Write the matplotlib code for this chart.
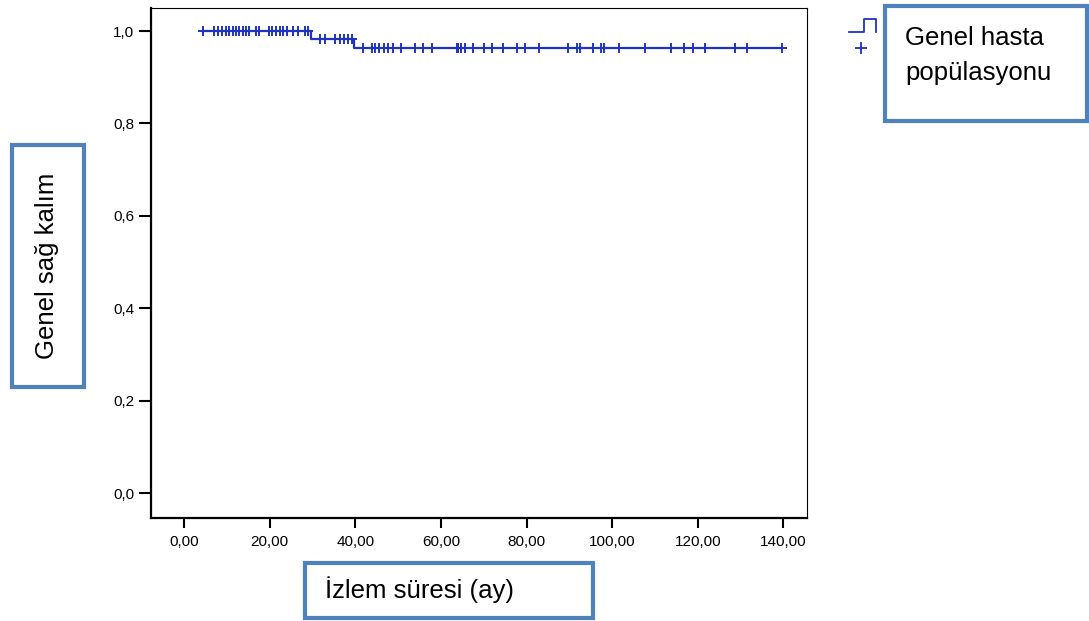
import matplotlib
matplotlib.use("Agg")
import matplotlib.pyplot as plt
from matplotlib.lines import Line2D
from matplotlib.patches import Rectangle

plt.rcParams['font.family'] = ['Liberation Sans', 'DejaVu Sans']

# Kaplan-Meier data
event_times = [29.7, 39.6]
surv_levels = [1.0, 0.982, 0.963]
start_time = 4.5
end_time = 139.6
censor_times = [4.5, 6.9, 8.0, 8.8, 9.8, 10.6, 11.4, 12.1, 12.9, 13.7, 14.5, 15.3,
                16.8, 17.6, 19.9, 20.5, 21.5, 22.4, 23.2, 24.0, 25.5, 26.7, 28.3, 29.0,
                31.8, 32.9, 35.3, 36.4, 37.4, 38.4, 39.2,
                41.9, 43.8, 44.6, 45.6, 46.6, 47.7, 48.7, 50.8, 53.9, 55.9, 57.9,
                63.7, 64.1, 64.8, 65.7, 67.6, 70.0, 71.9, 74.6, 77.7, 79.7, 82.8,
                89.8, 91.7, 92.6, 95.6, 97.5, 98.0, 101.7, 107.7, 113.7, 116.7,
                118.8, 121.6, 128.6, 131.6, 139.6]
x_ticks = [0, 20, 40, 60, 80, 100, 120, 140]
y_ticks = [0.0, 0.2, 0.4, 0.6, 0.8, 1.0]

blue = '#1f33c0'
box_col = '#4f81bd'
W, H = 1089, 621

fig = plt.figure(figsize=(10.89, 6.21), dpi=100)
ax = fig.add_axes([151 / W, 1 - 518 / H, (807 - 151) / W, (518 - 8) / H])

xs = [start_time] + event_times + [end_time]
ys = surv_levels + [surv_levels[-1]]
ax.step(xs, ys, where='post', color=blue, lw=1.6)


def level_at(t):
    lvl = surv_levels[0]
    for et, s in zip(event_times, surv_levels[1:]):
        if t >= et:
            lvl = s
    return lvl


ax.plot(censor_times, [level_at(t) for t in censor_times], linestyle='none',
        marker='+', ms=7.5, mew=1.4, color=blue)

ax.set_xlim(-7.7, 145.5)
ax.set_ylim(-0.054, 1.05)
ax.set_xticks(x_ticks)
ax.set_xticklabels([f"{v:.2f}".replace('.', ',') for v in x_ticks])
ax.set_yticks(y_ticks)
ax.set_yticklabels([f"{v:.1f}".replace('.', ',') for v in y_ticks])
ax.tick_params(axis='y', direction='out', length=9, width=1.5, labelsize=11, pad=3)
ax.tick_params(axis='x', direction='out', length=7, width=1.5, labelsize=11, pad=5)
for s in ['left', 'bottom']:
    ax.spines[s].set_linewidth(1.6)
for s in ['top', 'right']:
    ax.spines[s].set_linewidth(0.8)


def box(x0, y0, x1, y1):
    fig.add_artist(Rectangle((x0 / W, 1 - y1 / H), (x1 - x0) / W, (y1 - y0) / H,
                             transform=fig.transFigure, fill=False,
                             edgecolor=box_col, lw=3))


# y label box
box(12, 145, 84, 387)
fig.text(47 / W, 1 - 266 / H, "Genel sağ kalım", rotation=90, fontsize=18.5,
         ha='center', va='center')

# x label box
box(305, 563, 593, 618)
fig.text(325 / W, 1 - 590 / H, "İzlem süresi (ay)", fontsize=18.5,
         ha='left', va='center')

# legend box
box(885, 6, 1087, 121)
fig.text(905 / W, 1 - 38 / H, "Genel hasta", fontsize=18.5, ha='left', va='center')
fig.text(905 / W, 1 - 73 / H, "popülasyonu", fontsize=18.5, ha='left', va='center')

# legend symbol
lx = [849, 864, 864, 876, 876]
ly = [32, 32, 19, 19, 32]
fig.add_artist(Line2D([v / W for v in lx], [1 - v / H for v in ly],
                      transform=fig.transFigure, color=blue, lw=1.3))
fig.add_artist(Line2D([861 / W], [1 - 48 / H], transform=fig.transFigure,
                      marker='+', ms=9, mew=1.3, color=blue, linestyle='none'))

fig.savefig("out.png", dpi=100)
